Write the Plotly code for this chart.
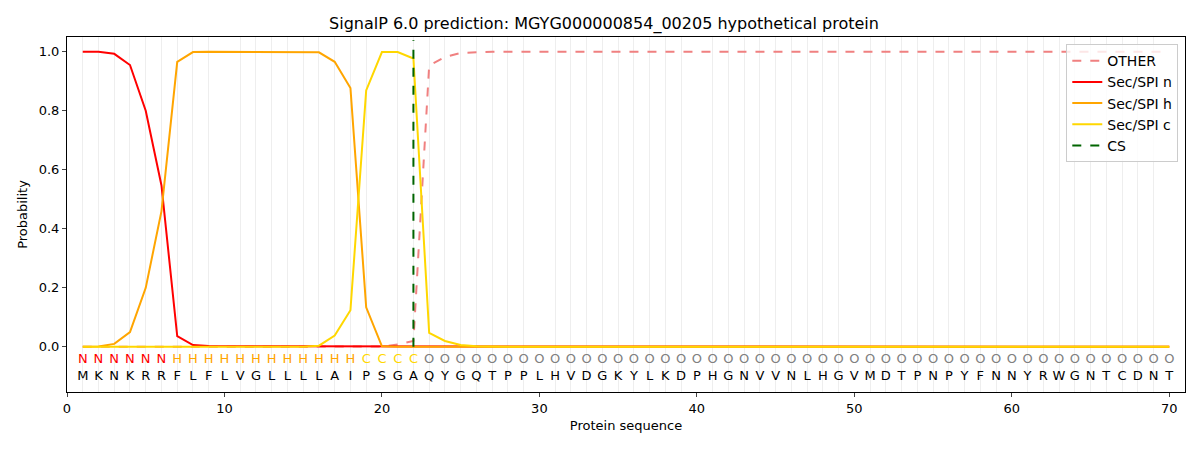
import plotly.graph_objects as go

# Sequence and per-residue labels
sequence = "MKNKRRFLFLVGLLLLAIPSGAQYGQTPPLHVDGKYLKDPHGNVVNLHGVMDTPNPYFNNYRWGNTCDNT"
region_labels = "NNNNNN" + "H" * 12 + "CCCC" + "O" * 48
positions = list(range(1, len(sequence) + 1))
cs_pos = 22

# Probabilities (positions 1..70)
sp_n = [1.0, 1.0, 0.993, 0.955, 0.80, 0.547, 0.036, 0.006, 0.003, 0.002,
        0.002, 0.002, 0.002, 0.002, 0.002, 0.002, 0.002, 0.002, 0.001, 0.001] + [0.0] * 50
sp_h = [0.0, 0.001, 0.01, 0.05, 0.20, 0.46, 0.966, 0.999, 1.0, 1.0,
        1.0, 1.0, 1.0, 1.0, 1.0, 0.998, 0.966, 0.877, 0.134, 0.002] + [0.0] * 50
sp_c = [0.0] * 15 + [0.004, 0.038, 0.124, 0.869, 0.999, 0.999, 0.977, 0.047, 0.02, 0.006,
                     0.002] + [0.0] * 44
other = [0.0] * 19 + [0.001, 0.008, 0.02, 0.953, 0.982, 0.996, 0.999] + [1.0] * 44

label_colors = {"N": "red", "H": "orange", "C": "gold", "O": "gray"}

fig = go.Figure()

fig.add_trace(go.Scatter(x=positions, y=other, mode="lines", name="OTHER",
                         line=dict(color="lightcoral", width=2, dash="dash")))
fig.add_trace(go.Scatter(x=positions, y=sp_n, mode="lines", name="Sec/SPI n",
                         line=dict(color="red", width=2)))
fig.add_trace(go.Scatter(x=positions, y=sp_h, mode="lines", name="Sec/SPI h",
                         line=dict(color="orange", width=2)))
fig.add_trace(go.Scatter(x=positions, y=sp_c, mode="lines", name="Sec/SPI c",
                         line=dict(color="gold", width=2)))
fig.add_trace(go.Scatter(x=[cs_pos, cs_pos], y=[0, 1.04], mode="lines", name="CS",
                         line=dict(color="darkgreen", width=2, dash="dash")))

# region letters and sequence letters below the curves
fig.add_trace(go.Scatter(x=positions, y=[-0.045] * len(positions), mode="text",
                         text=list(region_labels), showlegend=False, hoverinfo="skip",
                         textfont=dict(size=13, color=[label_colors[c] for c in region_labels])))
fig.add_trace(go.Scatter(x=positions, y=[-0.1] * len(positions), mode="text",
                         text=list(sequence), showlegend=False, hoverinfo="skip",
                         textfont=dict(size=13, color="black")))

# page body adds an 8px offset, so the figure is a bit smaller than the window
fig.update_layout(
    width=1192, height=442,
    margin=dict(l=59, r=15, t=29, b=58),
    plot_bgcolor="white", paper_bgcolor="white",
    font=dict(family="DejaVu Sans", size=13, color="black"),
    title=dict(text="SignalP 6.0 prediction: MGYG000000854_00205 hypothetical protein",
               x=0.5, xanchor="center", yref="container", y=0.966, yanchor="middle",
               font=dict(size=16)),
    legend=dict(x=0.994, y=0.98, xanchor="right", yanchor="top",
                bordercolor="#cccccc", borderwidth=1, bgcolor="rgba(255,255,255,0.8)",
                font=dict(size=14), tracegroupgap=2),
    showlegend=True,
)
fig.update_xaxes(range=[0, 71], tick0=0, dtick=10, ticks="outside", ticklen=4,
                 showline=True, linecolor="black", mirror=True, zeroline=False,
                 showgrid=False, automargin=False,
                 minor=dict(dtick=1, tick0=0, showgrid=True, gridcolor="#eeeeee", gridwidth=1),
                 title=dict(text="Protein sequence", standoff=6, font=dict(size=13)))
fig.update_yaxes(range=[-0.153, 1.05], tick0=0, dtick=0.2, tickformat=".1f", ticks="outside",
                 ticklen=4, showline=True, linecolor="black", mirror=True, zeroline=False,
                 showgrid=False, automargin=False,
                 title=dict(text="Probability", standoff=8, font=dict(size=13)))

fig.write_html("out.html")
